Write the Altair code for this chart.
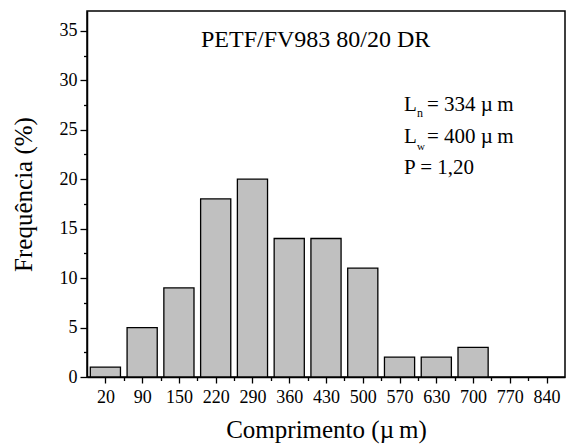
import altair as alt
import pandas as pd

categories = ["20", "90", "150", "220", "290", "360", "430", "500", "570", "630", "700", "770", "840"]
freq = [1, 5, 9, 18, 20, 14, 14, 11, 2, 2, 3, 0, 0]

title_text = "PETF/FV983 80/20 DR"
ann_main = ["L", "L", "P = 1,20"]
ann_sub = ["n", "w"]
ann_rest = ["= 334 \u00b5\u2009m", "= 400 \u00b5\u2009m"]

FONT = "Times New Roman, Liberation Serif, serif"

df = pd.DataFrame({"idx": list(range(len(categories))), "label": categories, "freq": freq})

labels_js = "[" + ",".join("'" + c + "'" for c in categories) + "]"

x_ticks = [i * 0.5 for i in range(0, 2 * (len(categories) - 1) + 1)]
y_ticks = [i * 2.5 for i in range(0, 15)]

xscale = alt.Scale(domain=[-0.5, len(categories) - 0.5], nice=False, zero=False)
yscale = alt.Scale(domain=[0, 37], nice=False)

bars = alt.Chart(df).transform_filter("datum.freq > 0").transform_calculate(
    x0="datum.idx - 0.41", x1="datum.idx + 0.41"
).mark_bar(fill="#c0c0c0", stroke="#000000", strokeWidth=1.3).encode(
    x=alt.X("x0:Q", scale=xscale, title="Comprimento (\u00b5\u2009m)",
            axis=alt.Axis(values=x_ticks,
                          labelExpr="datum.value % 1 === 0 ? " + labels_js + "[datum.value] : ''",
                          tickSize={"condition": {"test": "datum.value % 1 !== 0", "value": 3.5}, "value": 6},
                          labelPadding=5, titlePadding=11, grid=False)),
    x2="x1:Q",
    y=alt.Y("freq:Q", scale=yscale, title="Frequência (%)",
            axis=alt.Axis(values=y_ticks,
                          labelExpr="datum.value % 5 === 0 ? datum.label : ''",
                          tickSize={"condition": {"test": "datum.value % 5 !== 0", "value": 3.5}, "value": 7},
                          labelPadding=3, titlePadding=23, grid=False)),
    y2=alt.datum(0),
)

def txt(s, x, y, size):
    return alt.Chart(pd.DataFrame({"t": [s]})).mark_text(
        align="left", baseline="alphabetic", font=FONT, fontSize=size, color="#000000"
    ).encode(text="t:N", x=alt.value(x), y=alt.value(y))

layers = [bars,
          txt(title_text, 114, 36, 24),
          txt(ann_main[0], 317, 100, 21),
          txt(ann_sub[0], 330, 106, 12),
          txt(ann_rest[0], 340, 100, 21),
          txt(ann_main[1], 317, 132, 21),
          txt(ann_sub[1], 330, 139, 11),
          txt(ann_rest[1], 340, 132, 21),
          txt(ann_main[2], 317, 163, 21)]

chart = alt.layer(*layers).properties(
    width=478, height=366,
    autosize=alt.AutoSizeParams(type="none"),
    padding={"left": 79, "top": 3, "right": 3, "bottom": 70},
    background="white",
).configure_view(stroke="#000000", strokeWidth=1.5).configure_axis(
    domainColor="#000000", domainWidth=1.5, tickColor="#000000", tickWidth=1.3,
    labelFont=FONT, labelFontSize=18, labelColor="#000000",
    titleFont=FONT, titleFontSize=25, titleFontWeight="normal", titleColor="#000000",
)

chart.save("out.html", embed_options={"renderer": "svg", "actions": False})
